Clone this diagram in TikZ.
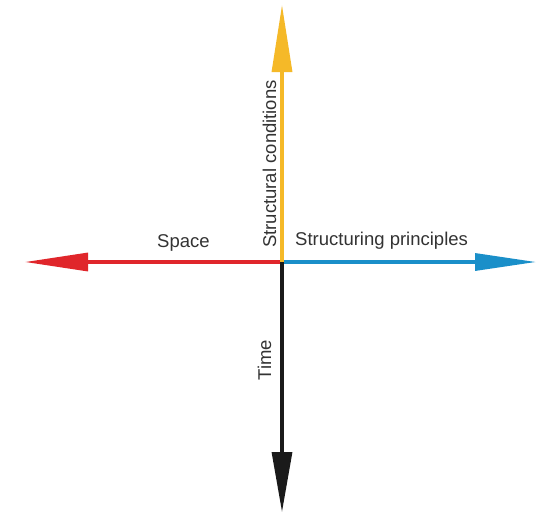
\documentclass[tikz,border=0pt]{standalone}
\usepackage{fontspec}
\setmainfont{Liberation Sans}
\usetikzlibrary{arrows.meta}
\definecolor{axred}{HTML}{E0262B}
\definecolor{axblue}{HTML}{1A8FC9}
\definecolor{axyellow}{HTML}{F5B928}
\definecolor{axblack}{HTML}{1A1A1A}
\definecolor{txt}{HTML}{333333}
\begin{document}
\begin{tikzpicture}[x=1pt,y=-1pt,
  axis/.style={line width=3.2pt},
  lbl/.style={text=txt, font=\fontsize{18.5}{20}\selectfont, inner sep=0pt}]
\useasboundingbox[fill=white] (0,0) rectangle (542,515);
\coordinate (o) at (282,262);
\coordinate (up) at (282,5);
\coordinate (down) at (282,512);
\coordinate (left) at (25,262);
\coordinate (right) at (536,262);
\draw[axis, axred, -{Triangle[length=63pt,width=18pt]}] (o) -- (left);
\draw[axis, axblue, -{Triangle[length=61pt,width=17pt]}] (o) -- (right);
\draw[axis, axblack, -{Triangle[length=60pt,width=20pt]}] (o) -- (down);
\draw[axis, axyellow, -{Triangle[length=67pt,width=20pt]}] (o) -- (up);
\node[lbl, anchor=base west] (space) at (157,247) {Space};
\node[lbl, anchor=base west] (sp) at (295,245) {Structuring principles};
\node[lbl, anchor=base west, rotate=90] (sc) at (276,248) {Structural conditions};
\node[lbl, anchor=base, rotate=90] (time) at (271,360) {Time};
\end{tikzpicture}
\end{document}
